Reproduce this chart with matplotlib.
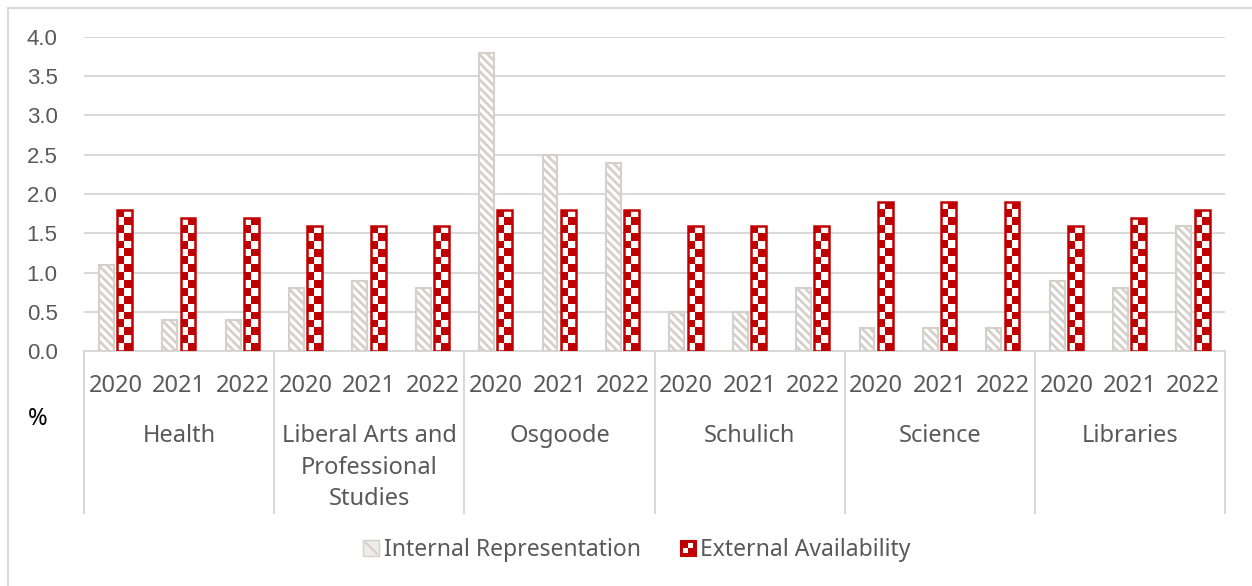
import numpy as np
import matplotlib
matplotlib.use("Agg")
import matplotlib.pyplot as plt
from matplotlib.patches import Rectangle
from matplotlib.lines import Line2D
from matplotlib.legend_handler import HandlerBase
from matplotlib.transforms import blended_transform_factory

groups = ["Health", "Liberal Arts and\nProfessional\nStudies", "Osgoode",
          "Schulich", "Science", "Libraries"]
years = ["2020", "2021", "2022"]
internal = [1.1, 0.4, 0.4, 0.8, 0.9, 0.8, 3.8, 2.5, 2.4,
            0.5, 0.5, 0.8, 0.3, 0.3, 0.3, 0.9, 0.8, 1.6]
external = [1.8, 1.7, 1.7, 1.6, 1.6, 1.6, 1.8, 1.8, 1.8,
            1.6, 1.6, 1.6, 1.9, 1.9, 1.9, 1.6, 1.7, 1.8]
yticks = [0.0, 0.5, 1.0, 1.5, 2.0, 2.5, 3.0, 3.5, 4.0]

RED = "#C00000"
TAN = "#D6D0CA"
GRID = "#D9D9D9"
TXT = "#595959"
FONT = ["Noto Sans", "DejaVu Sans"]

W, H = 1252, 586
fig = plt.figure(figsize=(W / 100, H / 100), dpi=100)
ax_left, ax_right, ax_bot, ax_top = 84, 1225, 351.3, 36.8
ax = fig.add_axes([ax_left / W, 1 - ax_bot / H, (ax_right - ax_left) / W, (ax_bot - ax_top) / H])

def ypix(y):
    # pixel row -> axes fraction
    return (ax_bot - y) / (ax_bot - ax_top)

x = np.arange(len(internal))
bw = 0.235
plt.rcParams["hatch.linewidth"] = 2.0

ax.bar(x - 0.148, internal, bw, color="white", edgecolor=TAN, hatch="\\\\\\\\", linewidth=1.5, zorder=3)
ext_bars = ax.bar(x + 0.140, external, bw, facecolor="none", edgecolor=RED, linewidth=1.8, zorder=4)

# checkerboard fill for the external bars
cmap = matplotlib.colors.ListedColormap(["white", RED])
px_per_unit = (ax_bot - ax_top) / 4.0
for b, v in zip(ext_bars, external):
    rows = max(1, int(round(v * px_per_unit / 7.85)))
    grid = (np.add.outer(np.arange(rows), np.arange(2)) % 2)
    im = ax.imshow(grid, cmap=cmap, extent=(b.get_x(), b.get_x() + bw, 0, v),
                   interpolation="nearest", aspect="auto", zorder=3.5, origin="lower")
    im.set_clip_path(b)

ax.set_xlim(-0.5, len(internal) - 0.5)
ax.set_ylim(0, 4.0)
ax.set_yticks(yticks)
ax.set_yticklabels([f"{t:.1f}" for t in yticks], fontsize=16, color=TXT, family="Liberation Sans")
ax.tick_params(axis="y", length=0, pad=19)
ax.grid(axis="y", color=GRID, linewidth=1.5, zorder=0)
ax.set_axisbelow(True)
for s in ["top", "right", "left"]:
    ax.spines[s].set_visible(False)
ax.spines["bottom"].set_color(GRID)
ax.spines["bottom"].set_linewidth(1.5)

ax.set_xticks(x)
ax.set_xticklabels(years * len(groups), fontsize=17, color=TXT, family=FONT)
ax.tick_params(axis="x", length=0, pad=16)

# group labels and separators under the year labels
tr = blended_transform_factory(ax.transData, ax.transAxes)
for i, g in enumerate(groups):
    ax.text(i * 3 + 1, ypix(424), g, transform=tr, ha="center", va="top",
            fontsize=17, color=TXT, family=FONT, linespacing=1.42)
for k in range(len(groups) + 1):
    ax.add_line(Line2D([k * 3 - 0.5] * 2, [0, ypix(513)], transform=tr,
                       color=GRID, linewidth=1.5, clip_on=False))

fig.text(38 / W, 1 - 419 / H, "%", ha="center", va="center", fontsize=17, color="black", family=FONT)

# chart area border (left and top edges)
fig.add_artist(Line2D([7.5 / W, 7.5 / W], [0, 1 - 7.5 / H], color=GRID, linewidth=1.5))
fig.add_artist(Line2D([7.5 / W, 1], [1 - 7.5 / H, 1 - 7.5 / H], color=GRID, linewidth=1.5))


class CheckerHandler(HandlerBase):
    def create_artists(self, legend, orig_handle, xd, yd, width, height, fontsize, trans):
        s = height
        x0 = xd + (width - s) / 2
        y0 = yd
        parts = [Rectangle((x0, y0), s, s, facecolor=RED, edgecolor=RED, lw=0.8, transform=trans),
                 Rectangle((x0 + s * 0.5, y0 + s * 0.5), s * 0.3, s * 0.3, facecolor="white",
                           edgecolor="none", transform=trans),
                 Rectangle((x0 + s * 0.2, y0 + s * 0.2), s * 0.3, s * 0.3, facecolor="white",
                           edgecolor="none", transform=trans)]
        return parts


class HatchHandler(HandlerBase):
    def create_artists(self, legend, orig_handle, xd, yd, width, height, fontsize, trans):
        s = height
        x0 = xd + (width - s) / 2
        return [Rectangle((x0, yd), s, s, facecolor="#EEEBE8", edgecolor=TAN, lw=1.0,
                          transform=trans),
                Line2D([x0 + s * 0.15, x0 + s * 0.85], [yd + s * 0.85, yd + s * 0.15],
                       color=TAN, lw=1.5, transform=trans)]


h_int = Rectangle((0, 0), 1, 1)
h_ext = Rectangle((0, 0), 1, 1)
fig.legend([h_int, h_ext], ["Internal Representation", "External Availability"],
           handler_map={h_int: HatchHandler(), h_ext: CheckerHandler()},
           loc="center", bbox_to_anchor=(637 / W, 1 - 550 / H), ncol=2, frameon=False,
           prop={"family": FONT, "size": 16.5}, labelcolor=TXT,
           handlelength=0.7, handleheight=0.7, handletextpad=0.2, columnspacing=1.7)

fig.savefig("out.png", dpi=100, facecolor="white")
